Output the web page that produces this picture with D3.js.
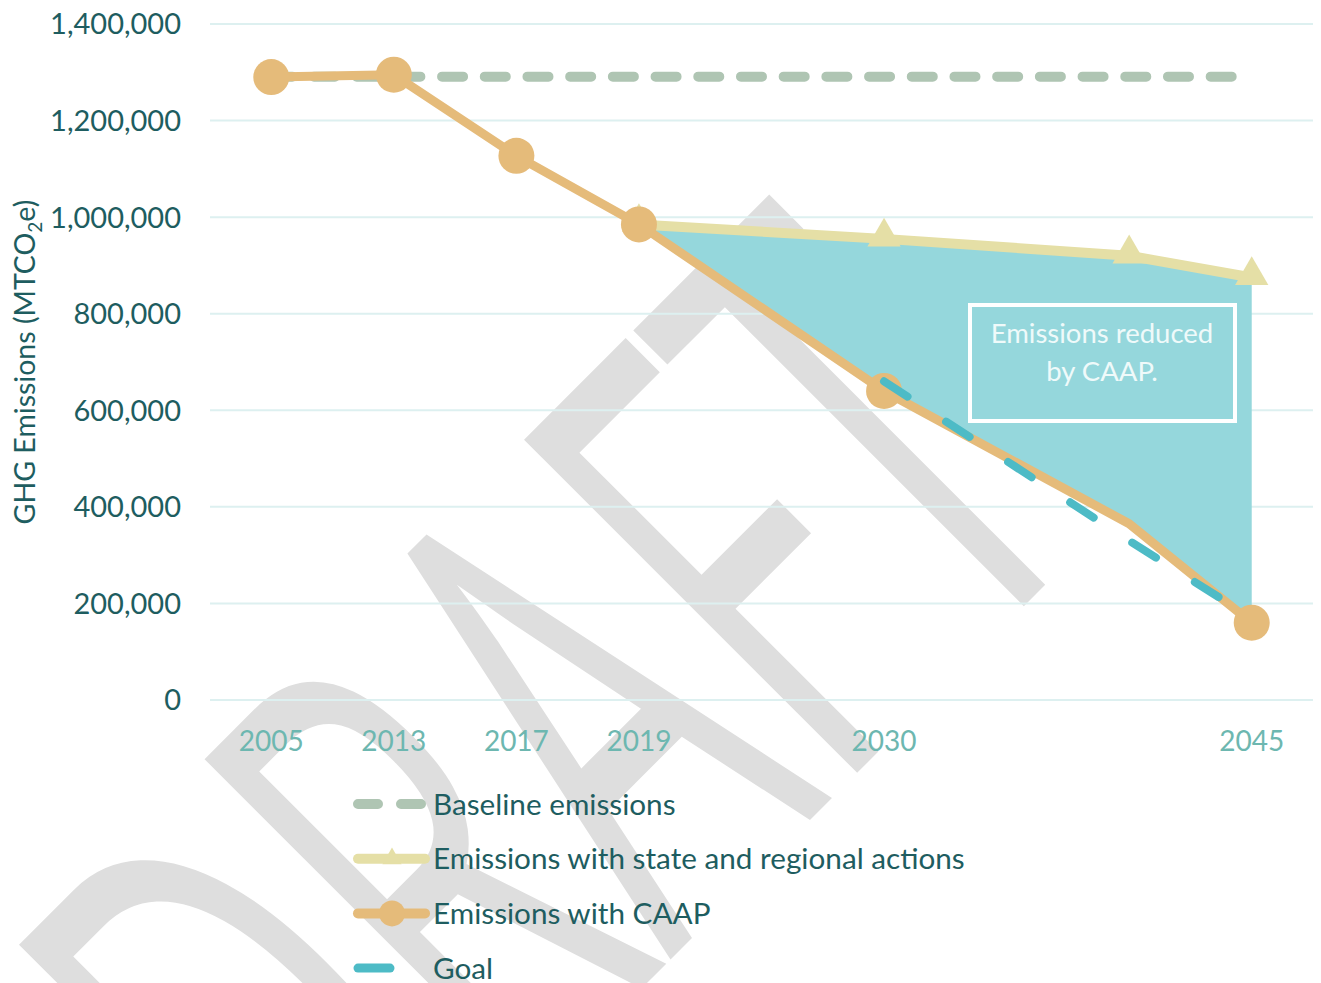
<!DOCTYPE html>
<html>
<head>
<meta charset="utf-8">
<script src="https://cdn.jsdelivr.net/npm/d3@7"></script>
<style>
  body { margin: 0; background: #fff; }
  text { font-family: Lato, "Open Sans", sans-serif; }
</style>
</head>
<body>
<div id="chart"></div>
<script>
// categories on the x axis (some years have no label)
const years = ["2005", "2013", "2017", "2019", "2025", "2030", "2035", "2040", "2045"];
const yearLabels = ["2005", "2013", "2017", "2019", "", "2030", "", "", "2045"];

// series, MTCO2e (null = no point)
const baseline     = [1291000, 1291000, 1291000, 1291000, 1291000, 1291000, 1291000, 1291000, 1291000];
const stateActions = [null, null, null, 985000, null, 955000, null, 920000, 875000];
const caap         = [1290000, 1295000, 1127000, 985000, null, 640000, null, 365000, 160000];
const goal         = [null, null, null, null, null, 660000, null, 330000, 170000];
const caapMarked   = ["2005", "2013", "2017", "2019", "2030", "2045"];

const yTicks = [0, 200000, 400000, 600000, 800000, 1000000, 1200000, 1400000];

const legendItems = ["Baseline emissions", "Emissions with state and regional actions", "Emissions with CAAP", "Goal"];

const width = 1321, height = 983;
const colors = {
    baseline: "#afc5b3",
    state: "#e5dfa6",
    caap: "#e5bb7a",
    goal: "#4dbbc6",
    fill: "#95d7dc",
    grid: "#ddf0f0",
    yText: "#1e5d60",
    xText: "#6db7b0",
    water: "#dedede"
};

const svg = d3.select("#chart").append("svg")
    .attr("width", width)
    .attr("height", height);

const x = d3.scalePoint().domain(years).range([210, 1313]).padding(0.5);
const y = d3.scaleLinear().domain([0, 1400000]).range([700, 24]);

const pts = arr => years.map((yr, i) => ({yr, v: arr[i]})).filter(d => d.v != null);

// watermark at the very back
svg.append("g")
    .attr("transform", "translate(1105,525) rotate(-45)")
    .append("text")
    .attr("x", 0)
    .attr("y", 0)
    .attr("text-anchor", "end")
    .attr("textLength", 1100)
    .attr("lengthAdjust", "spacingAndGlyphs")
    .style("font-family", "'Open Sans', sans-serif")
    .style("font-weight", 400)
    .style("font-size", "660px")
    .attr("fill", colors.water)
    .text("DRAFT");

// gridlines
svg.append("g").selectAll("line")
    .data(yTicks)
    .enter().append("line")
    .attr("x1", 210).attr("x2", 1313)
    .attr("y1", d => y(d)).attr("y2", d => y(d))
    .attr("stroke", colors.grid)
    .attr("stroke-width", 2);

// y labels
svg.append("g").selectAll("text")
    .data(yTicks)
    .enter().append("text")
    .attr("x", 181)
    .attr("y", d => y(d))
    .attr("dy", "0.36em")
    .attr("text-anchor", "end")
    .attr("fill", colors.yText)
    .style("font-size", "29px")
    .text(d => d3.format(",")(d));

// x labels
svg.append("g").selectAll("text")
    .data(years)
    .enter().append("text")
    .attr("x", d => x(d))
    .attr("y", 741)
    .attr("dy", "0.36em")
    .attr("text-anchor", "middle")
    .attr("fill", colors.xText)
    .style("font-size", "28px")
    .text((d, i) => yearLabels[i]);

// axis title
svg.append("text")
    .attr("transform", "translate(35,362) rotate(-90)")
    .attr("text-anchor", "middle")
    .attr("fill", colors.yText)
    .style("font-size", "28.5px")
    .call(t => {
        t.append("tspan").text("GHG Emissions (MTCO");
        t.append("tspan").attr("dy", 7).style("font-size", "19px").text("2");
        t.append("tspan").attr("dy", -7).text("e)");
    });

// reduction area between state actions and CAAP
const areaData = years.map((yr, i) => ({yr, top: stateActions[i], bottom: caap[i]}))
    .filter(d => d.top != null && d.bottom != null);
svg.append("path")
    .datum(areaData)
    .attr("fill", colors.fill)
    .attr("d", d3.area().x(d => x(d.yr)).y0(d => y(d.bottom)).y1(d => y(d.top)));

const line = d3.line().x(d => x(d.yr)).y(d => y(d.v));

// baseline
svg.append("path")
    .datum(pts(baseline))
    .attr("fill", "none")
    .attr("stroke", colors.baseline)
    .attr("stroke-width", 10)
    .attr("stroke-linecap", "round")
    .attr("stroke-dasharray", "21,21.7")
    .attr("d", line);

// state and regional actions
svg.append("path")
    .datum(pts(stateActions))
    .attr("fill", "none")
    .attr("stroke", colors.state)
    .attr("stroke-width", 10)
    .attr("stroke-linejoin", "round")
    .attr("d", line);
svg.append("g").selectAll("path")
    .data(pts(stateActions))
    .enter().append("path")
    .attr("transform", d => `translate(${x(d.yr)},${y(d.v) - 2})`)
    .attr("d", d3.symbol(d3.symbolTriangle, 480))
    .attr("fill", colors.state);

// CAAP
svg.append("path")
    .datum(pts(caap))
    .attr("fill", "none")
    .attr("stroke", colors.caap)
    .attr("stroke-width", 9)
    .attr("stroke-linejoin", "round")
    .attr("d", line);
svg.append("g").selectAll("circle")
    .data(pts(caap).filter(d => caapMarked.includes(d.yr)))
    .enter().append("circle")
    .attr("cx", d => x(d.yr))
    .attr("cy", d => y(d.v))
    .attr("r", 18)
    .attr("fill", colors.caap);

// goal
svg.append("path")
    .datum(pts(goal))
    .attr("fill", "none")
    .attr("stroke", colors.goal)
    .attr("stroke-width", 8)
    .attr("stroke-linecap", "round")
    .attr("stroke-dasharray", "28,46")
    .attr("d", line);

// annotation box
svg.append("rect")
    .attr("x", 970).attr("y", 305)
    .attr("width", 265).attr("height", 116)
    .attr("fill", colors.fill)
    .attr("stroke", "#fff")
    .attr("stroke-width", 4);
svg.append("g").selectAll("text")
    .data(["Emissions reduced", "by CAAP."])
    .enter().append("text")
    .attr("x", 1102)
    .attr("y", (d, i) => 333 + i * 38)
    .attr("dy", "0.36em")
    .attr("text-anchor", "middle")
    .attr("fill", "#effafa")
    .style("font-size", "27.5px")
    .text(d => d);

// legend
const legend = svg.append("g").attr("transform", "translate(0,804)");
const rowGap = 54.7;
legendItems.forEach((name, i) => {
    const g = legend.append("g").attr("transform", `translate(0,${i * rowGap})`);
    if (i === 0) {
        g.append("line").attr("x1", 358).attr("x2", 421)
            .attr("stroke", colors.baseline).attr("stroke-width", 10)
            .attr("stroke-linecap", "round").attr("stroke-dasharray", "20,23");
    } else if (i === 1) {
        g.append("line").attr("x1", 358).attr("x2", 425)
            .attr("stroke", colors.state).attr("stroke-width", 10)
            .attr("stroke-linecap", "round");
        g.append("path").attr("transform", "translate(392,0)")
            .attr("d", d3.symbol(d3.symbolTriangle, 160))
            .attr("fill", colors.state);
    } else if (i === 2) {
        g.append("line").attr("x1", 358).attr("x2", 425)
            .attr("stroke", colors.caap).attr("stroke-width", 10)
            .attr("stroke-linecap", "round");
        g.append("circle").attr("cx", 392).attr("r", 13).attr("fill", colors.caap);
    } else {
        g.append("line").attr("x1", 358).attr("x2", 390)
            .attr("stroke", colors.goal).attr("stroke-width", 9)
            .attr("stroke-linecap", "round");
    }
    g.append("text")
        .attr("x", 433)
        .attr("dy", "0.36em")
        .attr("fill", colors.yText)
        .style("font-size", "29.7px")
        .text(name);
});
</script>
</body>
</html>
